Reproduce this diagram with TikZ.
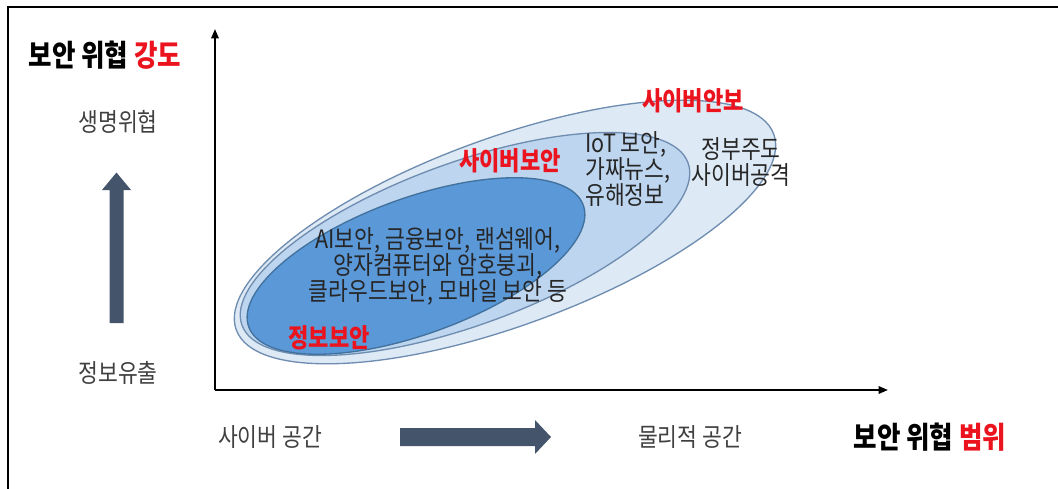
\documentclass[tikz,border=0pt]{standalone}
\usepackage{fontspec}
\setmainfont{Noto Sans CJK KR}[FakeStretch=0.85]
\usetikzlibrary{shapes.geometric,arrows.meta}
\definecolor{slate}{HTML}{44546A}
\definecolor{hired}{RGB}{235,20,30}
\definecolor{graytext}{HTML}{404040}
\definecolor{darktext}{HTML}{262626}
\definecolor{outerfill}{HTML}{DDEAF6}
\definecolor{midfill}{HTML}{BDD5EE}
\definecolor{innerfill}{HTML}{5A98D8}
\definecolor{edgeblue}{HTML}{6F8DB0}
\definecolor{inneredge}{HTML}{41719C}
\tikzset{
  body/.style={font=\fontsize{19}{19.5}\selectfont, inner sep=0pt},
  graylabel/.style={body, text=graytext},
  darklabel/.style={body, text=darktext, align=center},
  redlabel/.style={font=\fontsize{19.5}{21}\selectfont\bfseries, text=hired, inner sep=0pt},
  titlelabel/.style={font=\fontsize{22.5}{24}\selectfont\bfseries, text=black, inner sep=0pt},
  axis/.style={line width=1.5pt, -{Triangle[length=7pt,width=5.5pt]}},
  blob/.style={ellipse, inner sep=0pt, outer sep=0pt, rotate=20, line width=1pt},
}
\begin{document}
\begin{tikzpicture}[x=0.75pt,y=-0.75pt]
\useasboundingbox (0,0) rectangle (1058,489);
% frame
\coordinate (fbl) at (8,489);
\coordinate (ftl) at (8,7);
\coordinate (ftr) at (1058,7);
\draw[line width=1.8pt] (fbl) -- (ftl) -- (ftr);

% ellipses
\node[blob, draw=edgeblue, fill=outerfill, minimum width=429pt, minimum height=141pt] (outer) at (505,232) {};
\node[blob, draw=edgeblue, fill=midfill, minimum width=356pt, minimum height=122pt] (mid) at (465,244) {};
\node[blob, draw=inneredge, fill=innerfill, minimum width=267pt, minimum height=102pt] (inner) at (416,266) {};

% axes
\coordinate (o) at (215,390);
\coordinate (ytip) at (215,29);
\coordinate (xtip) at (888,390);
\draw[axis] (o) -- (ytip);
\draw[axis] (o) -- (xtip);

% left labels
\node[titlelabel] (ytitle) at (105,55) {보안 위협 \textcolor{hired}{강도}};
\node[graylabel] (life) at (118,122) {생명위협};
\node[graylabel] (leak) at (118,373) {정보유출};
\fill[slate] (109.5,323) -- (123.5,323) -- (123.5,190) -- (131,190) -- (116.5,172.5) -- (102,190) -- (109.5,190) -- cycle;

% bottom labels
\node[graylabel] (cyber) at (270,437) {사이버 공간};
\node[graylabel] (phys) at (690,437) {물리적 공간};
\node[titlelabel] (xtitle) at (930,437) {보안 위협 \textcolor{hired}{범위}};
\fill[slate] (400,428) -- (535,428) -- (535,420) -- (551,437) -- (535,454) -- (535,446) -- (400,446) -- cycle;

% ellipse labels
\node[redlabel] (l1) at (693,101) {사이버안보};
\node[redlabel] (l2) at (510,161) {사이버보안};
\node[redlabel] (l3) at (329,338) {정보보안};
\node[darklabel, anchor=west, align=left] (iot) at (585,169) {IoT 보안,\\가짜뉴스,\\유해정보};
\node[darklabel] (gov) at (741,162) {정부주도\\사이버공격};
\node[darklabel] (info) at (438,266) {AI보안, 금융보안, 랜섬웨어,\\양자컴퓨터와 암호붕괴,\\클라우드보안, 모바일 보안 등};
\end{tikzpicture}
\end{document}
